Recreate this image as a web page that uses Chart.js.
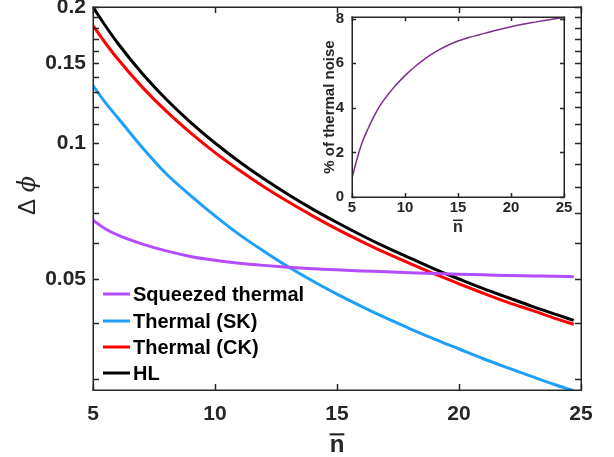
<!DOCTYPE html>
<html>
<head>
<meta charset="utf-8">
<script src="https://cdn.jsdelivr.net/npm/chart.js@4.4.0/dist/chart.umd.min.js"></script>
<style>
  body { margin: 0; background: #fff; }
  #wrap { position: relative; width: 614px; height: 457px; }
  #inset { position: absolute; left: 300px; top: 0; }
</style>
</head>
<body>
<div id="wrap">
  <canvas id="mainChart" width="614" height="457"></canvas>
  <canvas id="inset" width="300" height="245"></canvas>
</div>
<script>
// values
const nMain = [5, 5.5, 6, 7, 8, 9, 10, 11, 12, 13, 14, 15, 16, 17, 18, 19, 20, 21, 22, 23, 24, 24.7];
const squeezed = [0.0675, 0.0646, 0.0626, 0.0598, 0.0577, 0.0561, 0.055, 0.0542, 0.0536, 0.0531, 0.0527,
  0.0524, 0.0521, 0.0519, 0.0516, 0.0514, 0.0512, 0.0511, 0.0509, 0.0508, 0.0507, 0.0506];
const thermalSK = [0.134, 0.123, 0.114, 0.098, 0.0855, 0.0765, 0.069, 0.0627, 0.0576, 0.0532, 0.0495,
  0.0463, 0.0435, 0.041, 0.0388, 0.0368, 0.035, 0.0333, 0.0318, 0.0304, 0.0291, 0.0283];
const thermalCK = [0.1818, 0.1667, 0.1538, 0.1333, 0.1176, 0.1053, 0.0952, 0.087, 0.08, 0.0741, 0.069,
  0.0645, 0.0606, 0.0571, 0.0541, 0.0513, 0.0488, 0.0465, 0.0444, 0.0426, 0.0408, 0.0397];
const hl = [0.2, 0.182, 0.1667, 0.1429, 0.125, 0.1111, 0.1, 0.0909, 0.0833, 0.0769, 0.0714,
  0.0667, 0.0625, 0.0588, 0.0556, 0.0526, 0.05, 0.0476, 0.0455, 0.0435, 0.0417, 0.0405];
const seriesNames = ['Squeezed thermal', 'Thermal (SK)', 'Thermal (CK)', 'HL'];

const xTicks = [5, 10, 15, 20, 25];
const yTicks = [0.03, 0.04, 0.05, 0.06, 0.07, 0.08, 0.09, 0.1, 0.11, 0.12, 0.13, 0.14, 0.15, 0.16, 0.17, 0.18, 0.19, 0.2];
const yLabels = [0.05, 0.1, 0.15, 0.2];

const nInset = [5, 5.5, 6, 6.5, 7, 7.5, 8, 9, 10, 11, 12, 13, 14, 15, 16, 17, 18, 19, 20, 21, 22, 23, 24, 25];
const thermalPct = [0.85, 1.75, 2.5, 3.05, 3.55, 3.99, 4.35, 4.95, 5.45, 5.88, 6.25, 6.55, 6.8, 7.0,
  7.16, 7.28, 7.41, 7.53, 7.64, 7.74, 7.83, 7.91, 7.99, 8.06];
const insetYTicks = [0, 2, 4, 6, 8];

const axisColor = '#262626';
const colors = ['#b34dff', '#1ea0fa', '#ff0000', '#000000'];
const FAMILY = '"Liberation Sans", Arial, sans-serif';
Chart.defaults.font.family = FAMILY;
Chart.defaults.color = axisColor;

const toPoints = (xs, ys) => xs.map((x, i) => ({ x, y: ys[i] }));

// n with a bar over it, centred at (cx, baseline)
function drawNbar(ctx, cx, base, size) {
  ctx.font = 'bold ' + size + 'px ' + FAMILY;
  ctx.textAlign = 'center';
  ctx.textBaseline = 'alphabetic';
  ctx.fillText('n', cx, base);
  const w = ctx.measureText('n').width;
  ctx.fillRect(cx - w / 2, base - size * 0.78, w, Math.max(1.5, size * 0.09));
}

// frame and inward ticks on all four sides (MATLAB box)
// lines are 1.5px: plain 1px lines kept dropping out of the rendered picture
function drawBox(chart, len, yVals) {
  const ctx = chart.ctx;
  const a = chart.chartArea;
  const xs = chart.scales.x, ys = chart.scales.y;
  const L = Math.round(a.left), T = Math.round(a.top);
  const R = Math.round(a.right), B = Math.round(a.bottom);
  const lw = 1.5;
  ctx.save();
  ctx.fillStyle = axisColor;
  ctx.fillRect(L - 0.5, T - 0.5, R - L + lw, lw);
  ctx.fillRect(L - 0.5, B - 0.5, R - L + lw, lw);
  ctx.fillRect(L - 0.5, T - 0.5, lw, B - T + lw);
  ctx.fillRect(R - 0.5, T - 0.5, lw, B - T + lw);
  xTicks.forEach(v => {
    const px = Math.round(xs.getPixelForValue(v));
    ctx.fillRect(px - 0.25, B - len, lw, len);
    ctx.fillRect(px - 0.25, T, lw, len);
  });
  yVals.forEach(v => {
    const py = Math.round(ys.getPixelForValue(v));
    ctx.fillRect(L, py - 0.25, len, lw);
    ctx.fillRect(R - len, py - 0.25, len, lw);
  });
  ctx.restore();
}

const mainPlugin = {
  id: 'mainBox',
  afterDraw(chart) {
    drawBox(chart, 6, yTicks);
    const { ctx, chartArea: a } = chart;
    ctx.save();
    // legend in the lower left corner
    ctx.font = 'bold 20px ' + FAMILY;
    ctx.textBaseline = 'middle';
    const rows = [-96, -69, -43, -17];
    chart.data.datasets.forEach((ds, i) => {
      const yy = a.bottom + rows[i];
      ctx.strokeStyle = ds.borderColor;
      ctx.lineWidth = 3;
      ctx.beginPath();
      ctx.moveTo(a.left + 10, yy);
      ctx.lineTo(a.left + 37, yy);
      ctx.stroke();
      ctx.fillStyle = '#000';
      ctx.fillText(ds.label, a.left + 40, yy + 1);
    });

    ctx.fillStyle = axisColor;
    drawNbar(ctx, (a.left + a.right) / 2, 452, 24);

    // Δϕ axis label
    ctx.translate(35, 215);
    ctx.rotate(-Math.PI / 2);
    ctx.textAlign = 'left';
    ctx.textBaseline = 'alphabetic';
    ctx.font = '24px ' + FAMILY;
    ctx.fillText('Δ', 0, 0);
    const w = ctx.measureText('Δ ').width;
    ctx.font = 'italic 24px "DejaVu Serif", serif';
    ctx.fillText('ϕ', w, 0);
    ctx.restore();
  }
};

const insetPlugin = {
  id: 'insetBox',
  beforeDraw(chart) {
    const { ctx, chartArea: a } = chart;
    ctx.save();
    ctx.fillStyle = '#ffffff';
    ctx.fillRect(a.left, a.top, a.right - a.left, a.bottom - a.top);
    ctx.restore();
  },
  afterDraw(chart) {
    drawBox(chart, 4, insetYTicks);
    const { ctx, chartArea: a } = chart;
    ctx.save();
    ctx.fillStyle = axisColor;
    drawNbar(ctx, (a.left + a.right) / 2, 232, 16);
    ctx.restore();
  }
};

new Chart(document.getElementById('mainChart'), {
  type: 'line',
  data: {
    datasets: [squeezed, thermalSK, thermalCK, hl].map((ys, i) => ({
      label: seriesNames[i],
      data: toPoints(nMain, ys),
      borderColor: colors[i],
      borderWidth: 3,
      pointRadius: 0,
      cubicInterpolationMode: 'monotone'
    }))
  },
  options: {
    responsive: false,
    animation: false,
    devicePixelRatio: 1,
    layout: { padding: { top: 7, right: 33, left: 0, bottom: 0 } },
    plugins: {
      legend: { display: false },
      tooltip: { enabled: false }
    },
    scales: {
      x: {
        type: 'linear',
        min: 5,
        max: 25,
        afterBuildTicks: s => { s.ticks = xTicks.map(v => ({ value: v })); },
        afterFit: s => { s.height = 67; s.paddingLeft = 0; s.paddingRight = 0; },
        grid: { display: false, drawTicks: false },
        border: { display: false },
        ticks: { font: { size: 21, weight: 'bold' }, color: axisColor, padding: 12, maxRotation: 0 }
      },
      y: {
        type: 'logarithmic',
        min: 0.0284,
        max: 0.2,
        afterBuildTicks: s => { s.ticks = yTicks.map(v => ({ value: v })); },
        afterFit: s => { s.width = 93; s.paddingTop = 0; s.paddingBottom = 0; },
        grid: { display: false, drawTicks: false },
        border: { display: false },
        ticks: {
          autoSkip: false,
          font: { size: 21, weight: 'bold' },
          color: axisColor,
          padding: 7,
          callback: v => yLabels.some(l => Math.abs(l - v) < 1e-9) ? String(v) : ''
        }
      }
    }
  },
  plugins: [mainPlugin]
});

new Chart(document.getElementById('inset'), {
  type: 'line',
  data: {
    datasets: [{
      data: toPoints(nInset, thermalPct),
      borderColor: '#7e2f8e',
      borderWidth: 1.5,
      pointRadius: 0,
      cubicInterpolationMode: 'monotone'
    }]
  },
  options: {
    responsive: false,
    animation: false,
    devicePixelRatio: 1,
    layout: { padding: { top: 17, right: 36, left: 0, bottom: 0 } },
    plugins: {
      legend: { display: false },
      tooltip: { enabled: false }
    },
    scales: {
      x: {
        type: 'linear',
        min: 5,
        max: 25,
        afterBuildTicks: s => { s.ticks = xTicks.map(v => ({ value: v })); },
        afterFit: s => { s.height = 48; s.paddingLeft = 0; s.paddingRight = 0; },
        grid: { display: false, drawTicks: false },
        border: { display: false },
        ticks: { font: { size: 15, weight: 'bold' }, color: axisColor, padding: 2, maxRotation: 0 }
      },
      y: {
        min: 0,
        max: 8.08,
        afterBuildTicks: s => { s.ticks = insetYTicks.map(v => ({ value: v })); },
        afterFit: s => { s.width = 52; s.paddingTop = 0; s.paddingBottom = 0; },
        grid: { display: false, drawTicks: false },
        border: { display: false },
        ticks: { font: { size: 15, weight: 'bold' }, color: axisColor, padding: 8 },
        title: { display: true, text: '% of thermal noise', font: { size: 15, weight: 'bold' }, padding: { top: 21 }, color: axisColor }
      }
    }
  },
  plugins: [insetPlugin]
});
</script>
</body>
</html>
